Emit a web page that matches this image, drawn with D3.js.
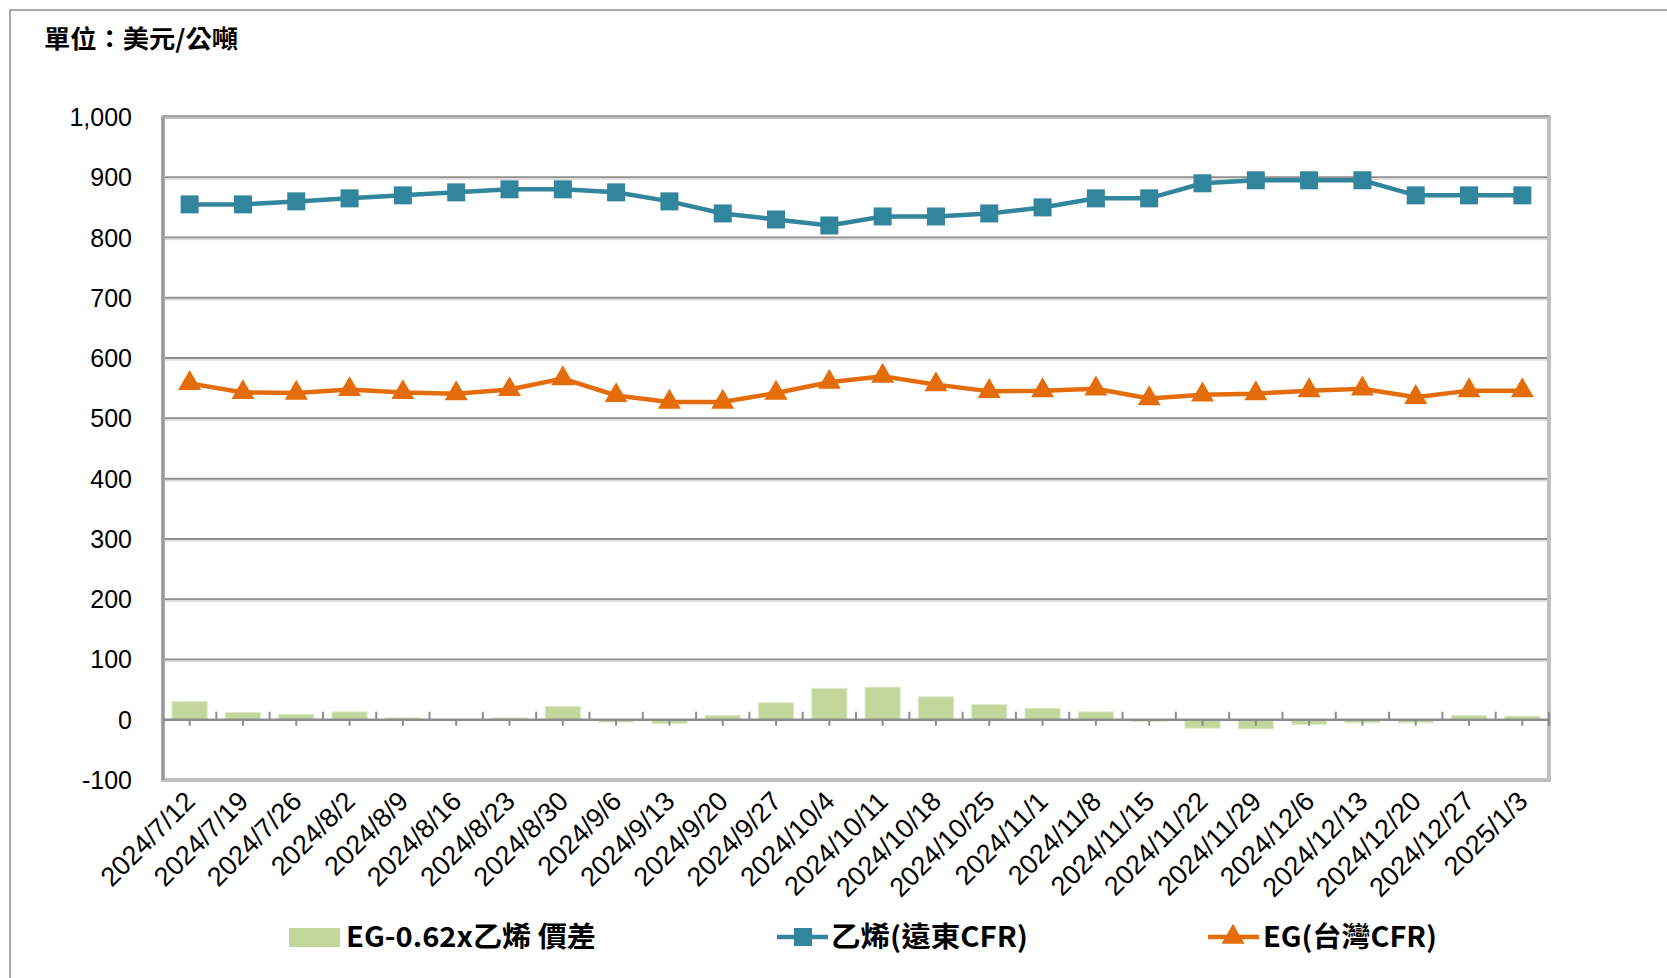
<!DOCTYPE html>
<html>
<head>
<meta charset="utf-8">
<script src="https://cdn.jsdelivr.net/npm/d3@7"></script>
<style>
  body { margin: 0; background: #fff; }
  .tick-label { font-family: "Liberation Sans", Arial, sans-serif; fill: #000; }
  .cjk { font-family: "Noto Sans CJK TC", "Noto Sans", sans-serif; }
</style>
</head>
<body>
<div id="chart"></div>
<script>
const dates = ["2024/7/12","2024/7/19","2024/7/26","2024/8/2","2024/8/9","2024/8/16","2024/8/23","2024/8/30",
  "2024/9/6","2024/9/13","2024/9/20","2024/9/27","2024/10/4","2024/10/11","2024/10/18","2024/10/25",
  "2024/11/1","2024/11/8","2024/11/15","2024/11/22","2024/11/29","2024/12/6","2024/12/13","2024/12/20",
  "2024/12/27","2025/1/3"];
const ethylene = [855,855,860,865,870,875,880,880,875,860,840,830,820,835,835,840,850,865,865,890,895,895,895,870,870,870];
const eg = [558,543,542,548,543,541,548,566,538,527,527,542,560,570,556,545,546,549,533,539,541,546,549,535,546,546];
const spread = [30,12,9,13,3,-1,3,22,-4,-6,7,28,52,54,38,25,19,13,-3,-14,-15,-8,-5,-5,7,6];
const yTicks = [-100,0,100,200,300,400,500,600,700,800,900,1000];
const legendNames = ["EG-0.62x乙烯 價差", "乙烯(遠東CFR)", "EG(台灣CFR)"];
const unitLabel = "單位：美元/公噸";

const W = 1667, H = 978;
const plot = {left: 163, right: 1549, top: 117, bottom: 780};
const GREEN = "#c3d69b", TEAL = "#31859c", ORANGE = "#e46c0a";

var svg = d3.select("#chart").append("svg")
    .attr("width", W).attr("height", H);

// outer frame
svg.append("rect")
    .attr("x", 10).attr("y", 10).attr("width", W + 20).attr("height", H + 20)
    .attr("fill", "none").attr("stroke", "#8c8c8c").attr("stroke-width", 1.5);

svg.append("text")
    .attr("class", "cjk")
    .attr("x", 44).attr("y", 48)
    .attr("font-size", 25).attr("font-weight", 700)
    .attr("textLength", 194).attr("lengthAdjust", "spacingAndGlyphs")
    .text(unitLabel);

var x = d3.scaleBand().domain(dates)
    .range([plot.left, plot.right])
    .paddingInner(0.34).paddingOuter(0.17);
var cx = d => x(d) + x.bandwidth() / 2;

var y = d3.scaleLinear().domain([-100, 1000]).range([plot.bottom, plot.top]);

// gridlines
var inner = yTicks.filter(v => v > 0 && v < 1000);
svg.append("g").selectAll("line").data(inner).enter()
    .append("line")
    .attr("x1", plot.left).attr("x2", plot.right)
    .attr("y1", d => y(d)).attr("y2", d => y(d))
    .attr("stroke", "#8f8f8f").attr("stroke-width", 2);
svg.append("g").selectAll("line").data(inner).enter()
    .append("line")
    .attr("x1", plot.left).attr("x2", plot.right)
    .attr("y1", d => y(d) + 2).attr("y2", d => y(d) + 2)
    .attr("stroke", "#dcdcdc").attr("stroke-width", 1.5);

// plot border
svg.append("rect")
    .attr("x", plot.left).attr("y", plot.top)
    .attr("width", plot.right - plot.left).attr("height", plot.bottom - plot.top)
    .attr("fill", "none").attr("stroke", "#c0c0c0").attr("stroke-width", 4);
svg.append("line")
    .attr("x1", plot.left).attr("x2", plot.right)
    .attr("y1", plot.top - 1).attr("y2", plot.top - 1)
    .attr("stroke", "#9a9a9a").attr("stroke-width", 1.5);
svg.append("line")
    .attr("x1", plot.left).attr("x2", plot.left)
    .attr("y1", plot.top).attr("y2", plot.bottom)
    .attr("stroke", "#9a9a9a").attr("stroke-width", 3);

// y axis labels
svg.append("g").selectAll("text").data(yTicks).enter()
    .append("text")
    .attr("class", "tick-label")
    .attr("x", 132).attr("y", d => y(d))
    .attr("dy", "0.36em")
    .attr("text-anchor", "end")
    .attr("font-size", 25)
    .text(d => d3.format(",")(d).replace("\u2212", "-"));

// bars
svg.append("g").selectAll("rect").data(spread).enter()
    .append("rect")
    .attr("x", (d, i) => x(dates[i]))
    .attr("width", x.bandwidth())
    .attr("y", d => y(Math.max(0, d)))
    .attr("height", d => Math.abs(y(d) - y(0)))
    .attr("fill", GREEN)
    .attr("stroke", "#dfe9c8").attr("stroke-width", 1);

// zero axis with ticks
svg.append("line")
    .attr("x1", plot.left).attr("x2", plot.right)
    .attr("y1", y(0)).attr("y2", y(0))
    .attr("stroke", "#8c8c8c").attr("stroke-width", 2.5);
svg.append("g").selectAll("line").data(dates).enter()
    .append("line")
    .attr("x1", d => cx(d)).attr("x2", d => cx(d))
    .attr("y1", y(0)).attr("y2", y(0) + 6)
    .attr("stroke", "#8c8c8c").attr("stroke-width", 2);
svg.append("g").selectAll("line").data(dates).enter()
    .append("line")
    .attr("x1", (d, i) => plot.left + (i + 1) * x.step())
    .attr("x2", (d, i) => plot.left + (i + 1) * x.step())
    .attr("y1", y(0) - 8).attr("y2", (d, i) => i === dates.length - 1 ? y(0) + 6 : y(0))
    .attr("stroke", "#8c8c8c").attr("stroke-width", 2);

// x labels
svg.append("g").selectAll("text").data(dates).enter()
    .append("text")
    .attr("class", "tick-label")
    .attr("font-size", 27)
    .attr("text-anchor", "end")
    .attr("transform", d => "translate(" + (cx(d) + 7) + "," + 803 + ") rotate(-45)")
    .text(d => d);

// lines
var line = d3.line().x((d, i) => cx(dates[i])).y(d => y(d));

svg.append("path").datum(ethylene)
    .attr("d", line).attr("fill", "none")
    .attr("stroke", TEAL).attr("stroke-width", 4.5);
svg.append("g").selectAll("rect").data(ethylene).enter()
    .append("rect")
    .attr("x", (d, i) => cx(dates[i]) - 9)
    .attr("y", d => y(d) - 9)
    .attr("width", 18).attr("height", 18)
    .attr("fill", TEAL);

svg.append("path").datum(eg)
    .attr("d", line).attr("fill", "none")
    .attr("stroke", ORANGE).attr("stroke-width", 4.5);
var tri = d3.symbol().type(d3.symbolTriangle).size(230);
svg.append("g").selectAll("path").data(eg).enter()
    .append("path")
    .attr("d", tri)
    .attr("transform", (d, i) => "translate(" + cx(dates[i]) + "," + y(d) + ")")
    .attr("fill", ORANGE);

// legend
var legY = 937;
var leg = svg.append("g").attr("class", "cjk")
    .attr("font-size", 28).attr("font-weight", 700);

leg.append("rect")
    .attr("x", 289).attr("y", legY - 9).attr("width", 51).attr("height", 19)
    .attr("fill", GREEN);
leg.append("text")
    .attr("x", 346).attr("y", legY).attr("dy", "0.36em")
    .attr("textLength", 250).attr("lengthAdjust", "spacingAndGlyphs")
    .text(legendNames[0]);

leg.append("line")
    .attr("x1", 777).attr("x2", 828).attr("y1", legY).attr("y2", legY)
    .attr("stroke", TEAL).attr("stroke-width", 4.5);
leg.append("rect")
    .attr("x", 803 - 9).attr("y", legY - 9).attr("width", 18).attr("height", 18)
    .attr("fill", TEAL);
leg.append("text")
    .attr("x", 831).attr("y", legY).attr("dy", "0.36em")
    .attr("textLength", 197).attr("lengthAdjust", "spacingAndGlyphs")
    .text(legendNames[1]);

leg.append("line")
    .attr("x1", 1208).attr("x2", 1259).attr("y1", legY).attr("y2", legY)
    .attr("stroke", ORANGE).attr("stroke-width", 4.5);
leg.append("path")
    .attr("d", tri)
    .attr("transform", "translate(1233," + legY + ")")
    .attr("fill", ORANGE);
leg.append("text")
    .attr("x", 1263).attr("y", legY).attr("dy", "0.36em")
    .attr("textLength", 174).attr("lengthAdjust", "spacingAndGlyphs")
    .text(legendNames[2]);
</script>
</body>
</html>
